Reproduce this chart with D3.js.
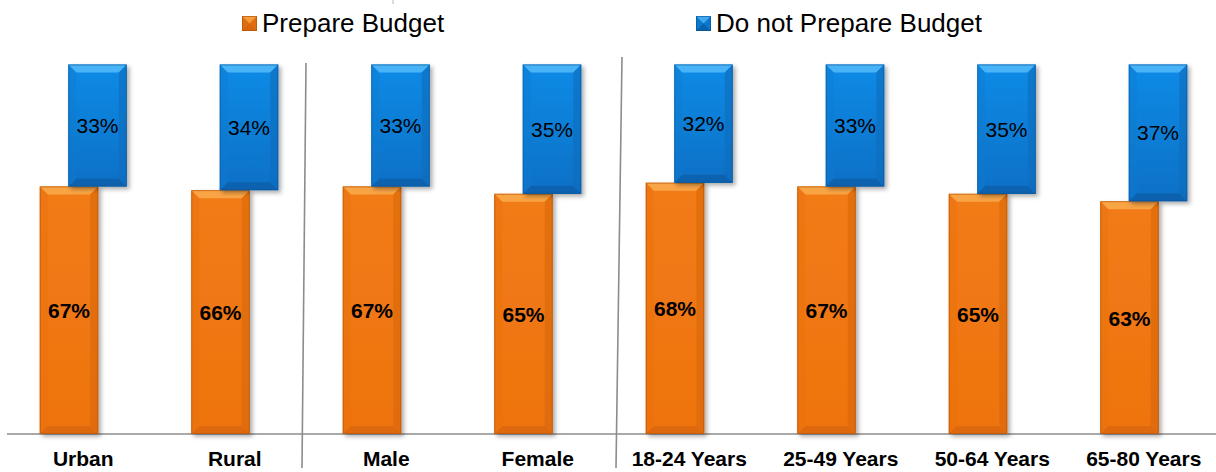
<!DOCTYPE html>
<html>
<head>
<meta charset="utf-8">
<script src="https://cdn.jsdelivr.net/npm/d3@7"></script>
<style>
  html, body { margin: 0; padding: 0; background: #fff; }
  svg { display: block; font-family: "Liberation Sans", Arial, sans-serif; }
</style>
</head>
<body>
<svg id="chart" width="1216" height="472"></svg>
<script>
// Share of respondents who prepare a household budget, by segment
const categories = ["Urban", "Rural", "Male", "Female", "18-24 Years", "25-49 Years", "50-64 Years", "65-80 Years"];
const prepareBudget = [67, 66, 67, 65, 68, 67, 65, 63];
const notPrepareBudget = [33, 34, 33, 35, 32, 33, 35, 37];
const seriesNames = ["Prepare Budget", "Do not Prepare Budget"];
const groupBreaks = [2, 4]; // segment groups: area | gender | age

const W = 1216, H = 472;
const svg = d3.select("#chart");

const x = d3.scaleBand().domain(categories).range([7.5, 1219.5]).paddingInner(0).paddingOuter(0);
const y = d3.scaleLinear().domain([0, 100]).range([434, 64.5]);

const barW = 58.5;
const orangeOff = -43.5;  // orange bar left edge relative to band centre
const blueOff = -15;      // blue bar sits to the right of the orange one
const bevel = 8;

const defs = svg.append("defs");
const f = defs.append("filter").attr("id", "shadow").attr("x", "-20%").attr("y", "-10%").attr("width", "150%").attr("height", "130%");
f.append("feDropShadow").attr("dx", 2.5).attr("dy", 2.5).attr("stdDeviation", 2).attr("flood-color", "#000").attr("flood-opacity", 0.33);

const blueGrad = defs.append("linearGradient").attr("id", "blueBody").attr("x1", 0).attr("y1", 0).attr("x2", 0).attr("y2", 1);
blueGrad.append("stop").attr("offset", "0%").attr("stop-color", "#118BE6");
blueGrad.append("stop").attr("offset", "100%").attr("stop-color", "#0A70C6");
const orangeGrad = defs.append("linearGradient").attr("id", "orangeBody").attr("x1", 0).attr("y1", 0).attr("x2", 0).attr("y2", 1);
orangeGrad.append("stop").attr("offset", "0%").attr("stop-color", "#F27B14");
orangeGrad.append("stop").attr("offset", "100%").attr("stop-color", "#EE7310");

const palettes = {
  orange: { body: "url(#orangeBody)", top: "#F9A445", bottom: "#D8650A", left: "#E9700F", right: "#D9670B", edge: "#A65008" },
  blue:   { body: "url(#blueBody)",   top: "#4AB3F7", bottom: "#085FAA", left: "#0C7BD0", right: "#0A6DBD", edge: "#07508F" }
};

// Bevelled bar: body rect plus four trapezoid facets
function bevelBar(g, bx, by, bw, bh, p, shadow) {
  const b = Math.min(bevel, bh / 2);
  const grp = g.append("g");
  if (shadow) grp.attr("filter", "url(#shadow)");
  grp.append("rect").attr("x", bx).attr("y", by).attr("width", bw).attr("height", bh).attr("fill", p.body);
  const facet = (pts, fill, op) => grp.append("polygon").attr("points", pts.map(d => d.join(",")).join(" ")).attr("fill", fill).attr("opacity", op);
  facet([[bx, by], [bx + bw, by], [bx + bw - b, by + b], [bx + b, by + b]], p.top, 1);
  facet([[bx, by + bh], [bx + bw, by + bh], [bx + bw - b, by + bh - b], [bx + b, by + bh - b]], p.bottom, 0.8);
  facet([[bx, by], [bx + b, by + b], [bx + b, by + bh - b], [bx, by + bh]], p.left, 0.4);
  facet([[bx + bw, by], [bx + bw - b, by + b], [bx + bw - b, by + bh - b], [bx + bw, by + bh]], p.right, 0.6);
  grp.append("rect").attr("x", bx + 0.5).attr("y", by + 0.5).attr("width", bw - 1).attr("height", bh - 1)
    .attr("fill", "none").attr("stroke", p.edge).attr("stroke-width", 1).attr("stroke-opacity", 0.55);
}

// Category axis
svg.append("line").attr("x1", 7).attr("x2", W).attr("y1", y(0)).attr("y2", y(0))
  .attr("stroke", "#8C8C8C").attr("stroke-width", 1.5);

// Group separators (slightly slanted, offset from the band boundary)
const sepTopOff = [-4.5, 8.5], sepBottomOff = [-8.5, 2.5], sepTopY = [63, 57];
groupBreaks.forEach((k, i) => {
  const bx = x(categories[k]);
  svg.append("line").attr("x1", bx + sepTopOff[i]).attr("y1", sepTopY[i]).attr("x2", bx + sepBottomOff[i]).attr("y2", 468)
    .attr("stroke", "#8C8C8C").attr("stroke-width", 1.6);
});
svg.append("line").attr("x1", 393).attr("x2", 393).attr("y1", 0).attr("y2", 4).attr("stroke", "#A9BCD0").attr("stroke-width", 1);

const bars = svg.append("g");
categories.forEach((c, i) => {
  const cx = x(c) + x.bandwidth() / 2;
  const p = prepareBudget[i], n = notPrepareBudget[i];
  bevelBar(bars, cx + orangeOff, y(p), barW, y(0) - y(p), palettes.orange, true);
  bevelBar(bars, cx + blueOff, y(p + n), barW, y(p) - y(p + n), palettes.blue, true);
});

// Value labels
categories.forEach((c, i) => {
  const cx = x(c) + x.bandwidth() / 2;
  const p = prepareBudget[i], n = notPrepareBudget[i];
  svg.append("text").attr("x", cx + orangeOff + barW / 2).attr("y", (y(0) + y(p)) / 2 + 8)
    .attr("text-anchor", "middle").attr("font-size", 21).attr("font-weight", "bold").attr("fill", "#000").text(p + "%");
  svg.append("text").attr("x", cx + blueOff + barW / 2).attr("y", (y(p) + y(p + n)) / 2 + 7.5)
    .attr("text-anchor", "middle").attr("font-size", 21).attr("fill", "#000").text(n + "%");
});

// Category labels
svg.append("g").selectAll("text").data(categories).join("text")
  .attr("x", d => x(d) + x.bandwidth() / 2).attr("y", 466)
  .attr("text-anchor", "middle").attr("font-size", 21).attr("font-weight", "bold").attr("fill", "#000")
  .text(d => d);

// Legend
const legendX = [242, 696];
const legend = svg.append("g");
seriesNames.forEach((s, i) => {
  const p = i === 0 ? palettes.orange : palettes.blue;
  const lg = legend.append("g");
  const sx = legendX[i], sy = 16, ss = 15;
  lg.append("rect").attr("x", sx).attr("y", sy).attr("width", ss).attr("height", ss).attr("fill", i === 0 ? "#E06E10" : "#0B78CC");
  lg.append("polygon").attr("points", `${sx},${sy} ${sx + ss},${sy} ${sx + ss / 2},${sy + ss / 2}`).attr("fill", p.top).attr("opacity", 0.85);
  lg.append("polygon").attr("points", `${sx},${sy + ss} ${sx + ss},${sy + ss} ${sx + ss / 2},${sy + ss / 2}`).attr("fill", p.bottom).attr("opacity", 0.9);
  lg.append("rect").attr("x", sx + 0.5).attr("y", sy + 0.5).attr("width", ss - 1).attr("height", ss - 1).attr("fill", "none").attr("stroke", p.edge).attr("stroke-opacity", 0.6);
  lg.append("text").attr("x", sx + ss + 5).attr("y", 32).attr("font-size", 26).attr("fill", "#000").text(s);
});
</script>
</body>
</html>
